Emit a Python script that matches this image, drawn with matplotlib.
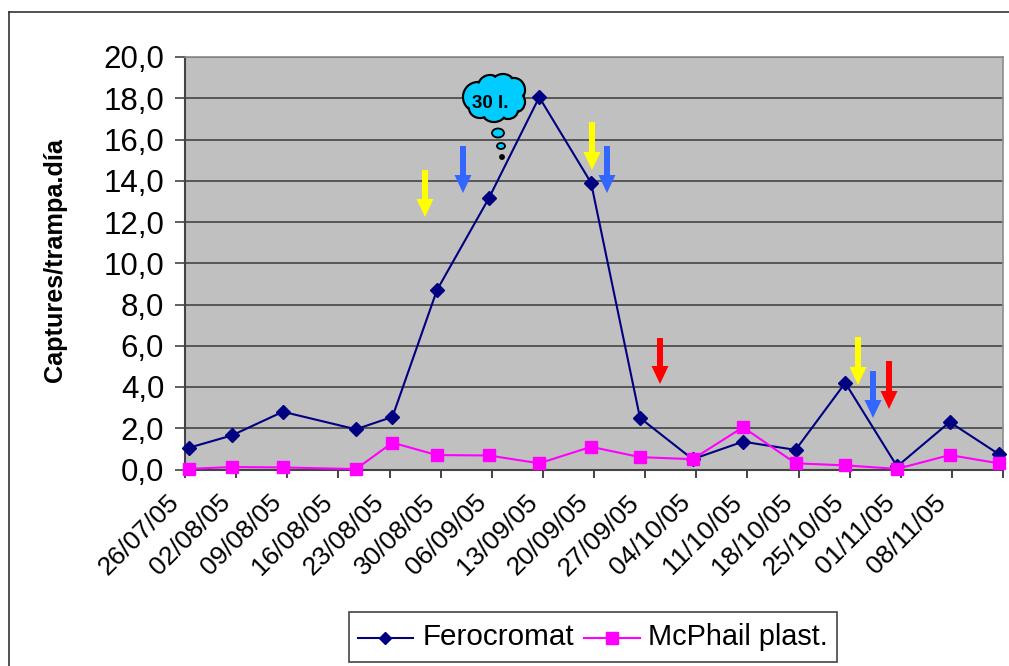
import matplotlib
matplotlib.use('Agg')
import matplotlib.pyplot as plt
from matplotlib.patches import Ellipse, Polygon, Rectangle
from matplotlib.lines import Line2D
from matplotlib.transforms import ScaledTranslation

plt.rcParams['font.family'] = ['Liberation Sans', 'DejaVu Sans']

W, H = 1009, 666

date_labels = ['26/07/05', '02/08/05', '09/08/05', '16/08/05', '23/08/05', '30/08/05',
               '06/09/05', '13/09/05', '20/09/05', '27/09/05', '04/10/05', '11/10/05',
               '18/10/05', '25/10/05', '01/11/05', '08/11/05']
sample_days = [0.5, 6.4, 13.4, 23.4, 28.4, 34.5, 41.6, 48.5, 55.6, 62.3, 69.5, 76.4,
               83.6, 90.4, 97.5, 104.7, 111.4]
ferocromat = [1.05, 1.65, 2.8, 1.95, 2.55, 8.7, 13.15, 18.05, 13.9, 2.5, 0.5, 1.35,
              0.95, 4.2, 0.15, 2.3, 0.75]
mcphail = [0.03, 0.12, 0.1, 0.02, 1.3, 0.7, 0.68, 0.3, 1.1, 0.6, 0.5, 2.05,
           0.3, 0.2, 0.03, 0.7, 0.3]
y_ticks = [0, 2, 4, 6, 8, 10, 12, 14, 16, 18, 20]

# treatment arrows: x, top, tip in image pixels
arrows = [(425, 170, 217, '#ffff00'), (463, 146, 193, '#3366ff'),
          (592, 122, 170, '#ffff00'), (607, 146, 193, '#3366ff'),
          (660, 338, 384, '#ff0000'), (858, 337, 385, '#ffff00'),
          (873, 371, 418, '#3366ff'), (889, 361, 409, '#ff0000')]

# cloud lobes: x, y, width, height in image pixels
cloud = [(478, 97, 30, 30), (490, 87, 24, 24), (503, 85, 24, 22), (514, 90, 22, 24),
         (516, 102, 18, 20), (508, 110, 20, 18), (494, 112, 24, 20), (480, 108, 22, 20),
         (495, 98, 40, 30)]
bubbles = [(498, 133, 12, 9, '#00ccff'), (501, 146, 8, 6, '#00ccff'), (502, 157, 4, 4, 'black')]


def px(x, y):
    return x / W, 1 - y / H


fig = plt.figure(figsize=(W / 100, H / 100), dpi=100)
ax = fig.add_axes([185 / W, 1 - 469.5 / H, (1003 - 185) / W, (469.5 - 57) / H])
ax.set_facecolor('#c0c0c0')

ax.plot(sample_days, ferocromat, color='#000080', lw=1.5, marker='D', ms=7.2,
        clip_on=False, zorder=3)
ax.plot(sample_days, mcphail, color='#ff00ff', lw=1.5, marker='s', ms=8.6,
        clip_on=False, zorder=4)

ax.set_xlim(0, 112)
ax.set_ylim(0, 20)
ax.set_yticks(y_ticks)
ax.set_yticklabels(['%d,0' % v for v in y_ticks], fontsize=22.5)
ax.set_xticks([7 * i for i in range(len(date_labels) + 1)])
ax.set_xticklabels(date_labels + [''], fontsize=19, rotation=45, ha='right',
                   rotation_mode='anchor')
ax.tick_params(axis='y', length=7, width=1.2, color='#444444', pad=8)
ax.tick_params(axis='x', length=6, width=1.2, color='#222222', pad=9)
shift = ScaledTranslation(-18 / 100, 0, fig.dpi_scale_trans)
for label in ax.get_xticklabels():
    label.set_transform(label.get_transform() + shift)
ax.grid(axis='y', color='#4d4d4d', lw=1.3)
ax.set_axisbelow(True)
for side in ['top', 'right']:
    ax.spines[side].set_color('#8c8c8c')
    ax.spines[side].set_linewidth(1.2)
for side in ['left', 'bottom']:
    ax.spines[side].set_color('#444444')
    ax.spines[side].set_linewidth(1.5)

fig.text(55 / W, 1 - 260.5 / H, 'Captures/trampa.día', rotation=90, fontsize=18.2,
         fontweight='bold', ha='center', va='center')

# outer chart frame
fig.add_artist(Line2D([9 / W, 9 / W], [0, 1 - 12 / H], color='#333333', lw=1.2))
fig.add_artist(Line2D([9 / W, 1], [1 - 12 / H, 1 - 12 / H], color='#333333', lw=1.2))

for x, top, tip, color in arrows:
    neck = tip - 18
    pts = [(x - 3, top), (x + 3, top), (x + 3, neck), (x + 8.5, neck), (x, tip),
           (x - 8.5, neck), (x - 3, neck)]
    fig.add_artist(Polygon([px(*p) for p in pts], closed=True, facecolor=color,
                           edgecolor='none', transform=fig.transFigure, zorder=5))

for x, y, w, h in cloud[:-1]:
    fig.add_artist(Ellipse(px(x, y), w / W, h / H, facecolor='#00ccff', edgecolor='black',
                           lw=1.6, transform=fig.transFigure, zorder=6))
for x, y, w, h in cloud:
    fig.add_artist(Ellipse(px(x, y), (w - 3) / W, (h - 3) / H, facecolor='#00ccff',
                           edgecolor='none', transform=fig.transFigure, zorder=6))
for x, y, w, h, color in bubbles:
    fig.add_artist(Ellipse(px(x, y), w / W, h / H, facecolor=color, edgecolor='black',
                           lw=1.3, transform=fig.transFigure, zorder=6))
fig.text(*px(490, 104), '30 l.', fontsize=13.5, fontweight='bold', ha='center', va='center',
         zorder=7)

# legend
fig.add_artist(Rectangle(px(349, 662), (837 - 349) / W, 50 / H, facecolor='white',
                         edgecolor='#444444', lw=1.2, transform=fig.transFigure))
fig.add_artist(Line2D([358 / W, 413 / W], [1 - 638 / H] * 2, color='#000080', lw=1.5))
fig.add_artist(Line2D([385 / W], [1 - 638 / H], color='#000080', marker='D', ms=6.6))
fig.text(*px(423, 637), 'Ferocromat', fontsize=21.3, va='center')
fig.add_artist(Line2D([584 / W, 640 / W], [1 - 638 / H] * 2, color='#ff00ff', lw=1.5))
fig.add_artist(Line2D([612 / W], [1 - 638 / H], color='#ff00ff', marker='s', ms=8.6))
fig.text(*px(648, 637), 'McPhail plast.', fontsize=20.8, va='center')

fig.savefig('out.png', dpi=100)
